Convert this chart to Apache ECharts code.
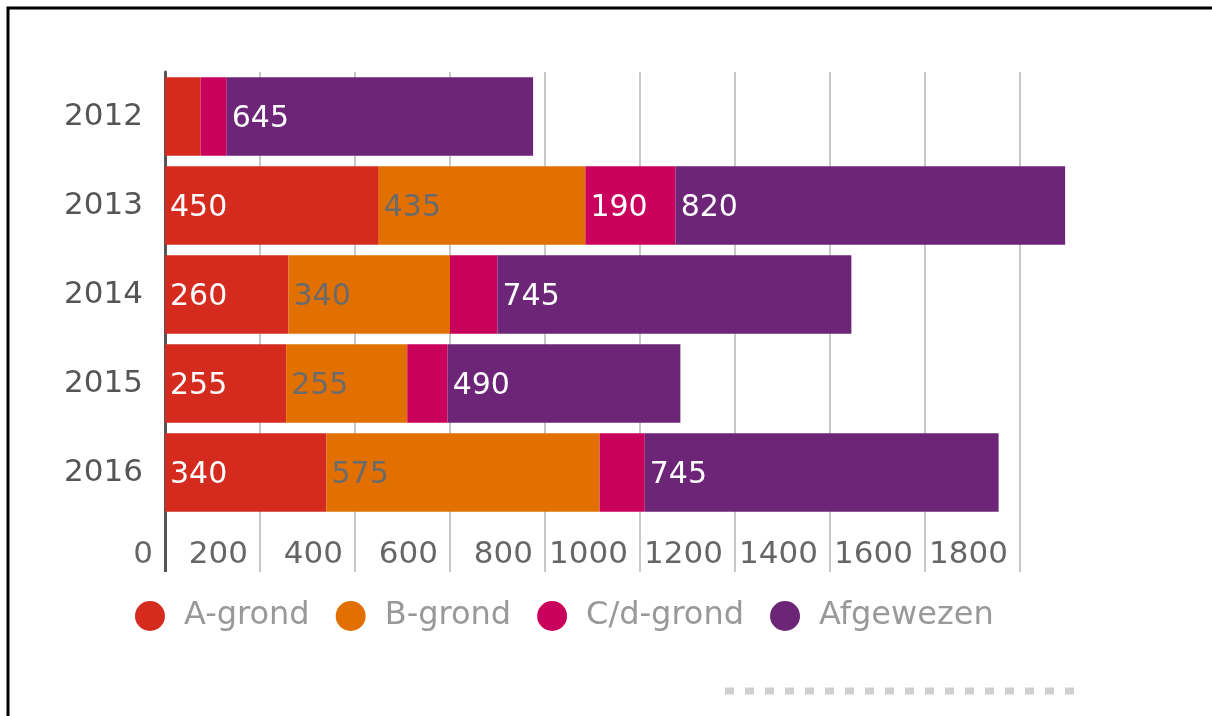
<!DOCTYPE html>
<html>
<head>
<meta charset="utf-8">
<script src="https://cdn.jsdelivr.net/npm/echarts@6/dist/echarts.min.js"></script>
<style>
    html, body { margin: 0; padding: 0; background: #fff; }
    #chart { width: 1212px; height: 716px; }
</style>
</head>
<body>
<div id="chart"></div>
<script>
// categories and series values
const years = ['2012', '2013', '2014', '2015', '2016'];
const aGrond = [75, 450, 260, 255, 340];
const bGrond = [0, 435, 340, 255, 575];
const cdGrond = [55, 190, 100, 85, 95];
const afgewezen = [645, 820, 745, 490, 745];
const seriesNames = ['A-grond', 'B-grond', 'C/d-grond', 'Afgewezen'];
const colors = ['#d52b1e', '#e17000', '#ca005d', '#6d2578'];
const labelColors = ['#ffffff', '#6b6b6b', '#ffffff', '#ffffff'];

const font = '"DejaVu Sans", Verdana, sans-serif';

const chart = echarts.init(document.getElementById('chart'));

// segments that are too narrow get no label
const makeSeries = (name, data, i) => ({
    name: name,
    type: 'bar',
    stack: 'total',
    data: data,
    barCategoryGap: '12%',
    clip: false,
    itemStyle: { color: colors[i] },
    label: {
        show: true,
        position: 'insideLeft',
        distance: 5,
        offset: [0, 3],
        fontFamily: font,
        fontSize: 30,
        color: labelColors[i],
        formatter: p => (p.value >= 150 ? String(p.value) : '')
    },
    emphasis: { disabled: true }
});

const option = {
    animation: false,
    color: colors,
    grid: { left: 165, right: 192, top: 72, height: 445 },
    legend: {
        left: 130,
        top: 595,
        icon: 'circle',
        itemWidth: 30,
        itemHeight: 30,
        itemGap: 26,
        textStyle: {
            fontFamily: font,
            fontSize: 32,
            color: '#999999',
            padding: [0, 0, 0, 14]
        },
        data: seriesNames
    },
    xAxis: [{
        type: 'value',
        min: 0,
        max: 1800,
        interval: 200,
        axisLine: { show: false },
        axisTick: {
            show: true,
            length: 55,
            lineStyle: { color: '#c8c8c8', width: 2 }
        },
        axisLabel: {
            fontFamily: font,
            fontSize: 31,
            color: '#666666',
            align: 'right',
            margin: 22,
            padding: [0, 12, 0, 0],
            formatter: v => String(v)
        },
        splitLine: { lineStyle: { color: '#c8c8c8', width: 2 } }
    }, {
        // dark extension of the zero line below the plot
        type: 'value',
        min: 0,
        max: 1800,
        interval: 200,
        position: 'bottom',
        axisLine: { show: false },
        axisTick: {
            show: true,
            length: 55,
            customValues: [0],
            lineStyle: { color: '#555555', width: 3 }
        },
        axisLabel: { show: false },
        splitLine: { show: false }
    }],
    yAxis: {
        type: 'category',
        data: years,
        inverse: true,
        axisLine: { lineStyle: { color: '#555555', width: 3 } },
        axisTick: { show: false },
        axisLabel: {
            fontFamily: font,
            fontSize: 31,
            color: '#555555',
            margin: 22,
            padding: [6, 0, 0, 0]
        }
    },
    series: [
        makeSeries(seriesNames[0], aGrond, 0),
        makeSeries(seriesNames[1], bGrond, 1),
        makeSeries(seriesNames[2], cdGrond, 2),
        makeSeries(seriesNames[3], afgewezen, 3)
    ],
    graphic: [
        {
            type: 'rect',
            shape: { x: 8, y: 8, width: 1300, height: 800 },
            style: { fill: 'none', stroke: '#000000', lineWidth: 3 },
            silent: true
        },
        {
            type: 'line',
            shape: { x1: 725, y1: 691, x2: 1084, y2: 691 },
            style: { stroke: '#cfcfcf', lineWidth: 7, lineDash: [9, 11] },
            silent: true
        }
    ]
};

chart.setOption(option);
</script>
</body>
</html>
